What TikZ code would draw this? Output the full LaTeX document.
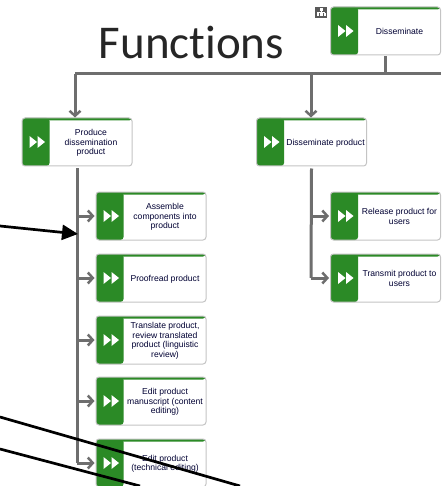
\documentclass[tikz,border=0pt]{standalone}
\usepackage{fontspec}
\setmainfont{Liberation Sans}
\newfontfamily\titlefont[Ligatures=NoCommon]{Carlito}
\usetikzlibrary{arrows.meta}
\definecolor{boxgreen}{HTML}{2B8A26}
\definecolor{linegray}{HTML}{6E6E6E}
\definecolor{bordergray}{HTML}{C4C4C4}
\tikzset{
  box/.style={draw=bordergray,line width=1pt,fill=white,rounded corners=3pt,minimum width=110pt,minimum height=48pt,inner sep=0pt,
    path picture={
      \fill[boxgreen] (path picture bounding box.south west) rectangle ([xshift=27.5pt]path picture bounding box.north west);
      \fill[boxgreen] ([yshift=-2.5pt]path picture bounding box.north west) rectangle (path picture bounding box.north east);
    }},
  boxtext/.style={font=\fontsize{8.6}{9.9}\selectfont,text=black!80!blue,align=center,inner sep=0pt},
  conn/.style={draw=linegray,line width=3pt},
  connarrow/.style={conn,-{Straight Barb[length=5pt,width=11pt,line width=2.5pt]}},
  blackline/.style={draw=black,line width=2.7pt},
  playtri/.style={fill=white,draw=none}
}
\newcommand{\procbox}[4]{%
  \node[box] (#1) at (#2,#3) {};
  \node[boxtext] (#1t) at ([xshift=14pt,yshift=-0.8pt]#1.center) {#4};
  \fill[playtri] ([xshift=-47.5pt,yshift=-6pt]#1.center) -- ++(7.5pt,6pt) -- ++(-7.5pt,6pt) -- cycle;
  \fill[playtri] ([xshift=-39.5pt,yshift=-6pt]#1.center) -- ++(7.5pt,6pt) -- ++(-7.5pt,6pt) -- cycle;
}
\begin{document}
\begin{tikzpicture}[x=1pt,y=-1pt]
\useasboundingbox (0,0) rectangle (441,486);
\clip (0,0) rectangle (441,486);
\fill[white] (0,0) rectangle (441,486);
\node[font=\titlefont\fontsize{47}{50}\selectfont,text=black!85,inner sep=0pt] (title) at (191.5,43) {Functions};
\procbox{dis}{385.5}{31}{Disseminate}
\procbox{prod}{77}{142}{Produce\\dissemination\\product}
\procbox{disp}{311.5}{142}{Disseminate product}
\procbox{rel}{385.5}{216}{Release product for\\users}
\procbox{tra}{385.5}{278}{Transmit product to\\users}
\procbox{ass}{151}{216}{Assemble\\components into\\product}
\procbox{pro}{151}{278}{Proofread product}
\procbox{trn}{151}{340}{Translate product,\\review translated\\product (linguistic\\review)}
\procbox{edm}{151}{401}{Edit product\\manuscript (content\\editing)}
\procbox{edt}{151}{463}{Edit product\\(technical editing)}
% hierarchy icon
\node[fill=black!65,minimum width=12pt,minimum height=11pt,inner sep=0pt] (icon) at (321,12.5) {};
\fill[white] (319.5,8.5) rectangle (322.5,11);
\fill[white] (316.5,13.5) rectangle (319,16);
\fill[white] (320,13.5) rectangle (322.5,16);
\fill[white] (323.5,13.5) rectangle (326,16);
\draw[white,line width=.5pt] (321,11) -- (321,13.5) (317.7,13.5) -- (317.7,12.3) -- (324.7,12.3) -- (324.7,13.5);
% connectors
\coordinate (busL) at (75,74);
\coordinate (busR) at (441,74);
\coordinate (busD) at (385,74);
\draw[conn] (busL) -- (busR);
\draw[conn] ([yshift=-1pt]dis.south -| busD) -- (busD);
\draw[connarrow] (busL) -- (busL |- prod.north);
\coordinate (busM) at (311,74);
\draw[connarrow] (busM) -- (busM |- disp.north);
\draw[conn] ([yshift=-2pt]prod.south) -- (77,463);
\foreach \n in {ass,pro,trn,edm,edt}{
  \draw[connarrow] (77,0 |- \n.west) -- ([xshift=-1pt]\n.west);
}
\draw[conn] ([yshift=-2pt]disp.south) -- (311,278);
\foreach \n in {rel,tra}{
  \draw[connarrow] (311,0 |- \n.west) -- ([xshift=-1pt]\n.west);
}
% black annotation lines
\coordinate (a0) at (0,226);
\coordinate (a1) at (78,234);
\draw[blackline,-{Triangle[length=16pt,width=15pt]}] (a0) -- (a1);
\coordinate (b0) at (0,417);
\coordinate (b1) at (240,486);
\draw[blackline] (b0) -- (b1);
\coordinate (c0) at (0,449);
\coordinate (c1) at (140,486);
\draw[blackline] (c0) -- (c1);
\end{tikzpicture}
\end{document}
